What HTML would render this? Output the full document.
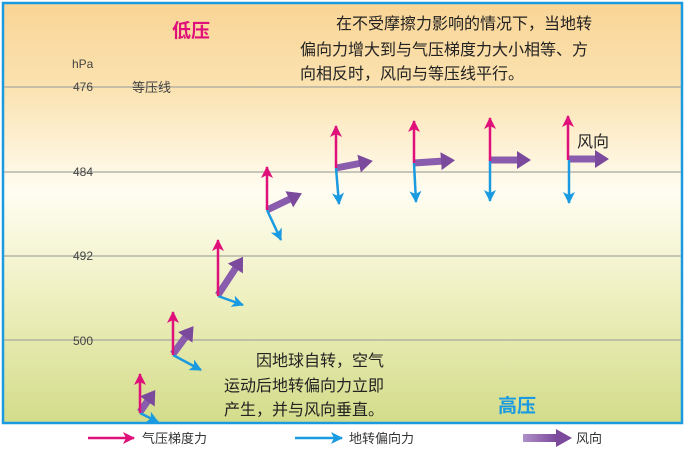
<!DOCTYPE html>
<html><head><meta charset="utf-8"><style>
html,body{margin:0;padding:0;background:#fff;}
svg{display:block;font-family:"Liberation Sans","Noto Sans CJK SC",sans-serif;}
</style></head><body>
<svg width="685" height="458" viewBox="0 0 685 458" xmlns="http://www.w3.org/2000/svg">
<defs>
<linearGradient id="bg" x1="0" y1="0" x2="0" y2="1">
<stop offset="0" stop-color="#f9d596"/>
<stop offset="0.2" stop-color="#fbe2b0"/>
<stop offset="0.45" stop-color="#fffdf2"/>
<stop offset="0.7" stop-color="#eef0c0"/>
<stop offset="1" stop-color="#d3dc8a"/>
</linearGradient>
<marker id="mp" markerUnits="userSpaceOnUse" markerWidth="16" markerHeight="16" refX="11" refY="6" orient="auto"><path d="M0,0 L12,6 L0,12 L3,6 Z" fill="#e0107a"/></marker>
<marker id="mb" markerUnits="userSpaceOnUse" markerWidth="16" markerHeight="16" refX="11" refY="6" orient="auto"><path d="M0,0 L12,6 L0,12 L3,6 Z" fill="#1a9ae0"/></marker>
<marker id="mv" markerUnits="userSpaceOnUse" markerWidth="18" markerHeight="20" refX="3" refY="9" orient="auto"><path d="M0,0 L14,9 L0,18 Z" fill="#7c4a9c"/></marker>
<linearGradient id="pv" gradientUnits="userSpaceOnUse" x1="523" y1="0" x2="556" y2="0"><stop offset="0" stop-color="#b090c8"/><stop offset="1" stop-color="#7c4a9c"/></linearGradient>
</defs>
<rect x="3" y="3" width="679" height="420" fill="url(#bg)" stroke="#1a9ae0" stroke-width="2.5"/>
<g stroke="#a8a8a0" stroke-width="1.2">
<line x1="4" y1="87" x2="681" y2="87"/><line x1="4" y1="172" x2="681" y2="172"/>
<line x1="4" y1="256" x2="681" y2="256"/><line x1="4" y1="340" x2="681" y2="340"/>
</g>
<g font-size="12" fill="#444">
<text x="72" y="68">hPa</text><text x="73" y="91">476</text><text x="73" y="176">484</text><text x="73" y="260">492</text><text x="73" y="345">500</text>
<text x="132" y="92" font-size="13">等压线</text>
</g>
<text x="172" y="37" font-size="19" font-weight="bold" fill="#e0107a">低压</text>
<text x="498" y="412" font-size="19" font-weight="bold" fill="#1a9ae0">高压</text>
<g font-size="16" fill="#222">
<text x="336" y="29">在不受摩擦力影响的情况下，当地转</text>
<text x="300" y="55">偏向力增大到与气压梯度力大小相等、方</text>
<text x="300" y="79">向相反时，风向与等压线平行。</text>
<text x="256" y="366">因地球自转，空气</text>
<text x="224" y="391">运动后地转偏向力立即</text>
<text x="224" y="415">产生，并与风向垂直。</text>
<text x="577" y="147">风向</text>
</g>
<g stroke-width="7" stroke="#8a5cae" marker-end="url(#mv)" fill="none">
<line x1="140" y1="412" x2="149" y2="399"/>
<line x1="173" y1="354" x2="187" y2="335"/>
<line x1="218" y1="295" x2="237" y2="266"/>
<line x1="267" y1="210" x2="292" y2="198"/>
<line x1="336" y1="168" x2="362" y2="163"/>
<line x1="414" y1="163" x2="444" y2="161"/>
<line x1="490" y1="160" x2="520" y2="160"/>
<line x1="568" y1="159" x2="598" y2="159"/>
</g>
<g stroke="#1a9ae0" stroke-width="2.5" marker-end="url(#mb)">
<line x1="140" y1="413" x2="158" y2="422"/>
<line x1="173" y1="355" x2="201" y2="370"/>
<line x1="218" y1="296" x2="243" y2="305"/>
<line x1="267" y1="210" x2="281" y2="240"/>
<line x1="336" y1="168" x2="339" y2="204"/>
<line x1="414" y1="163" x2="416" y2="202"/>
<line x1="490" y1="161" x2="490" y2="201"/>
<line x1="569" y1="160" x2="569" y2="203"/>
<line x1="295" y1="438" x2="342" y2="438"/>
</g>
<g stroke="#e0107a" stroke-width="2.5" marker-end="url(#mp)">
<line x1="140" y1="413" x2="140" y2="374"/>
<line x1="173" y1="355" x2="173" y2="312"/>
<line x1="218" y1="296" x2="218" y2="240"/>
<line x1="267" y1="210" x2="267" y2="167"/>
<line x1="336" y1="168" x2="336" y2="126"/>
<line x1="414" y1="163" x2="414" y2="121"/>
<line x1="490" y1="161" x2="490" y2="118"/>
<line x1="568" y1="160" x2="568" y2="116"/>
<line x1="88" y1="438" x2="134" y2="438"/>
</g>
<rect x="523" y="434" width="34" height="8" fill="url(#pv)"/>
<path d="M556,429 L572,438 L556,447 Z" fill="#7c4a9c"/>
<g font-size="13" fill="#333">
<text x="142" y="443">气压梯度力</text>
<text x="349" y="443">地转偏向力</text>
<text x="576" y="443">风向</text>
</g>
</svg>
</body></html>
